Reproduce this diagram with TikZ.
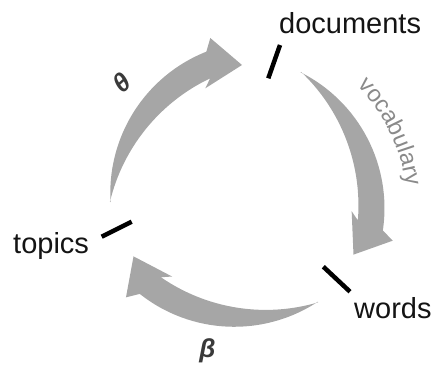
\documentclass[tikz,border=0pt]{standalone}
\usepackage{fontspec}
\setmainfont{Liberation Sans}
\usetikzlibrary{calc,decorations.text}
\definecolor{arrowgray}{HTML}{A6A6A6}
\definecolor{labelgray}{HTML}{8A8A8A}
\definecolor{greekgray}{HTML}{3A3A3A}
\tikzset{
  flowarrow/.pic={
    % tapered curved arrow: outer arc r=152, inner arc r=184.5, head at the end
    \fill[arrowgray] (-132.43,-10.01) arc[start angle=183.4, end angle=111.6, radius=152]
      -- (-32.7,154) -- (-1,127) -- (-37.7,103.7)
      -- (-32.84,113.67) arc[start angle=115.4, end angle=166.5, radius=184.5] -- cycle;
  }
}
\begin{document}
\begin{tikzpicture}[x=1pt,y=1pt,
  term/.style={inner sep=0pt, anchor=base west, font=\fontsize{29}{34}\selectfont, text=black!92},
  tickmark/.style={line width=4.5pt, black},
  greek/.style={inner sep=0pt, font=\fontsize{26}{30}\selectfont\bfseries\itshape, text=greekgray}]
\useasboundingbox (0,0) rectangle (431,365);
\coordinate (O) at (243,173);
\coordinate (Cv) at (232.5,156.8);

% the three flow arrows of the cycle
\pic at (O) {flowarrow};
\pic[rotate=-120] at (O) {flowarrow};
\pic[rotate=120] at (O) {flowarrow};

% labels
\node[term] (documents) at (279,331.7) {documents};
\node[term] (topics) at (13,112) {topics};
\node[term] (words) at (354,46.7) {words};

% short marks next to the labels
\coordinate (d1) at (280,320);    \coordinate (d2) at (268.3,286.7);
\coordinate (t1) at (101.7,128.3); \coordinate (t2) at (131.7,143.3);
\coordinate (w1) at (323.3,98.3);  \coordinate (w2) at (350,73.3);
\draw[tickmark] (d1) -- (d2);
\draw[tickmark] (t1) -- (t2);
\draw[tickmark] (w1) -- (w2);

% parameter labels
\node[greek, rotate=42] (theta) at (121.7,282.5) {θ};
\node[greek] (beta) at (207.5,14.5) {β};

% curved label along the right arrow
\path[decorate, decoration={text along path, text align=center, text color=labelgray,
  text={|\fontsize{23.5}{27}\selectfont|vocabulary}}]
  ($(Cv)+(48:175)$) arc[start angle=48, end angle=3.5, radius=175];
\end{tikzpicture}
\end{document}
